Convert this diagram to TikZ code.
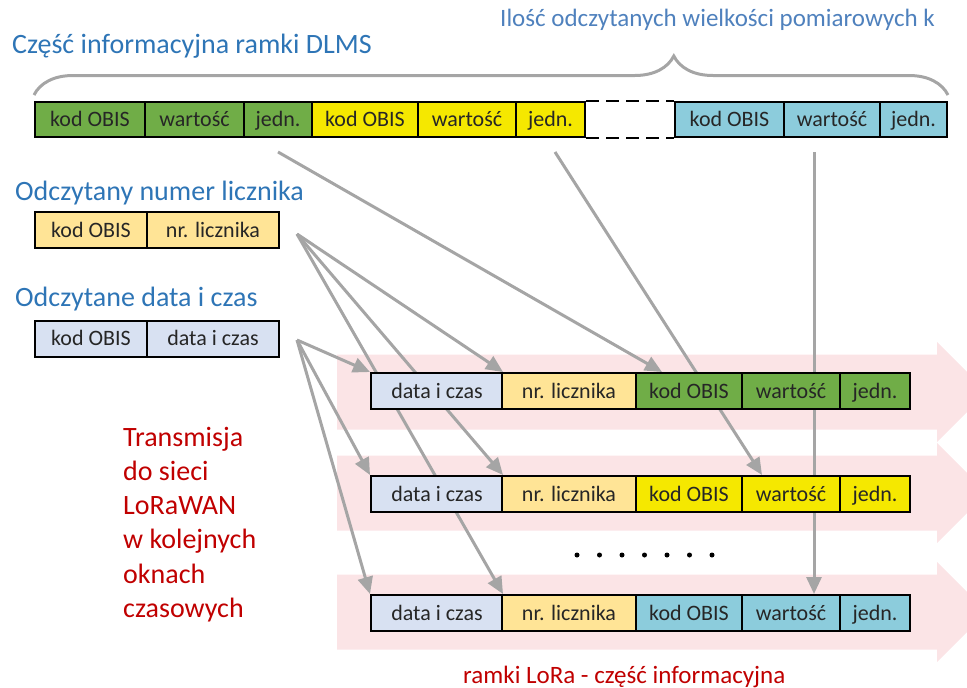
\documentclass[tikz,border=0pt]{standalone}
\usepackage{fontspec}
\setmainfont{Carlito}
\usetikzlibrary{arrows.meta,decorations.pathreplacing,backgrounds}

\definecolor{dlmsgreen}{RGB}{112,173,71}
\definecolor{dlmsyellow}{RGB}{245,232,0}
\definecolor{dlmscyan}{RGB}{140,204,220}
\definecolor{nrorange}{RGB}{255,228,150}
\definecolor{dtblue}{RGB}{216,225,242}
\definecolor{bandpink}{RGB}{251,228,230}
\definecolor{arrowgray}{RGB}{165,165,165}
\definecolor{headblue}{RGB}{46,117,182}
\definecolor{lightblue}{RGB}{79,129,189}
\definecolor{lorared}{RGB}{192,0,0}

\tikzset{
  cell/.style={draw=black, line width=2pt, inner sep=0pt, minimum height=35pt,
    text height=18pt, text depth=4pt, text=black!85, font=\fontsize{22}{26}\selectfont},
  link/.style={draw=arrowgray, line width=3pt, -{Triangle[length=17pt,width=15pt]}},
  band/.style={fill=bandpink, draw=none},
  title/.style={anchor=base west, inner sep=0pt, text=headblue, font=\fontsize{28}{32}\selectfont},
}

\begin{document}
\begin{tikzpicture}[x=1pt,y=1pt]
      \useasboundingbox (0,0) rectangle (967,-688);

      % titles
      \node[title] (dlms) at (12,-53) {Część informacyjna ramki DLMS};
      \node[title, text=lightblue, font=\fontsize{25}{30}\selectfont] (ilosc) at (500,-27) {Ilość odczytanych wielkości pomiarowych k};
      \node[title] (nrtitle) at (15,-200) {Odczytany numer licznika};
      \node[title] (dttitle) at (15,-306) {Odczytane data i czas};

      % DLMS frame
      \foreach \nm/\xa/\xb/\col/\txt in {g1/35/145/dlmsgreen/kod OBIS, g2/145/244/dlmsgreen/wartość, g3/244/312/dlmsgreen/jedn.,
          y1/312/418/dlmsyellow/kod OBIS, y2/418/516/dlmsyellow/wartość, y3/516/585/dlmsyellow/jedn.,
          c1/675/784/dlmscyan/kod OBIS, c2/784/880/dlmscyan/wartość, c3/880/947/dlmscyan/jedn.} {
        \node[cell, fill=\col, minimum width={(\xb-\xa)*1pt}] (\nm) at ({(\xa+\xb)/2},-119.5) {\txt};
      }
      \draw[line width=2pt, dash pattern=on 13pt off 7pt] (y3.north east) -- (c1.north west) (y3.south east) -- (c1.south west);
      \draw[decorate, decoration={brace, amplitude=39pt, aspect=0.7}, draw=arrowgray, line width=3pt]
        ([yshift=6pt]g1.north west) -- ([yshift=6pt]c3.north east);

      % meter number and date
      \node[cell, fill=nrorange, minimum width=112pt, minimum height=36pt] (nl-a) at (91,-230) {kod OBIS};
      \node[cell, fill=nrorange, minimum width=132pt, minimum height=36pt] (nl-b) at (213,-230) {nr. licznika};
      \node[cell, fill=dtblue, minimum width=112pt, minimum height=36pt] (dc-a) at (91,-338.5) {kod OBIS};
      \node[cell, fill=dtblue, minimum width=132pt, minimum height=36pt] (dc-b) at (213,-338.5) {data i czas};

      % LoRa frames
      \foreach \r/\y/\col in {r1/-391/dlmsgreen, r2/-494/dlmsyellow, r3/-613/dlmscyan} {
        \node[cell, fill=dtblue, minimum width=132pt, minimum height=36pt] (\r-a) at (437,\y) {data i czas};
        \node[cell, fill=nrorange, minimum width=134pt, minimum height=36pt] (\r-b) at (569,\y) {nr. licznika};
        \node[cell, fill=\col, minimum width=106pt, minimum height=36pt] (\r-c) at (689,\y) {kod OBIS};
        \node[cell, fill=\col, minimum width=98pt, minimum height=36pt] (\r-d) at (791,\y) {wartość};
        \node[cell, fill=\col, minimum width=70pt, minimum height=36pt] (\r-e) at (875,\y) {jedn.};
      }
      \foreach \i in {0,...,6} {
        \fill (577+22.5*\i,-555) circle (2.5);
      }

      \coordinate (s1) at (278,-152);
      \coordinate (s2) at (555,-152);
      \coordinate (s3) at (814,-152);
      \coordinate (fnr) at (297,-234);
      \coordinate (fdt) at (297,-340);

      \begin{scope}[on background layer]
        % transmission bands
        \begin{scope}
          \clip (0,0) rectangle (967,-688);
          \foreach \y in {-392,-493,-612} {
            \fill[band] (337,\y+37.5) -- (937,\y+37.5) -- (937,\y+50) -- (987,\y)
              -- (937,\y-50) -- (937,\y-37.5) -- (337,\y-37.5) -- cycle;
          }
        \end{scope}
        % arrows
        \draw[link] (s1) -- ([xshift=27pt]r1-c.north west);
        \draw[link] (s2) -- ([xshift=21pt]r2-d.north west);
        \draw[link] (s3) -- (s3 |- r3-d.north);
        \foreach \r in {r1,r2,r3} {
          \draw[link] (fnr) -- ([xshift=2pt]\r-b.north west);
          \draw[link] (fdt) -- (\r-a.north west);
        }
      \end{scope}

      % transmission text
      \foreach \t [count=\i] in {Transmisja, do sieci, LoRaWAN, w kolejnych, oknach, czasowych} {
        \node[title, text=lorared] (tr\i) at (123,{-446-34.3*(\i-1)}) {\t};
      }
      \node[title, text=lorared, font=\fontsize{25}{30}\selectfont] (lora) at (463,-683) {ramki LoRa - część informacyjna};
    \end{tikzpicture}
\end{document}
